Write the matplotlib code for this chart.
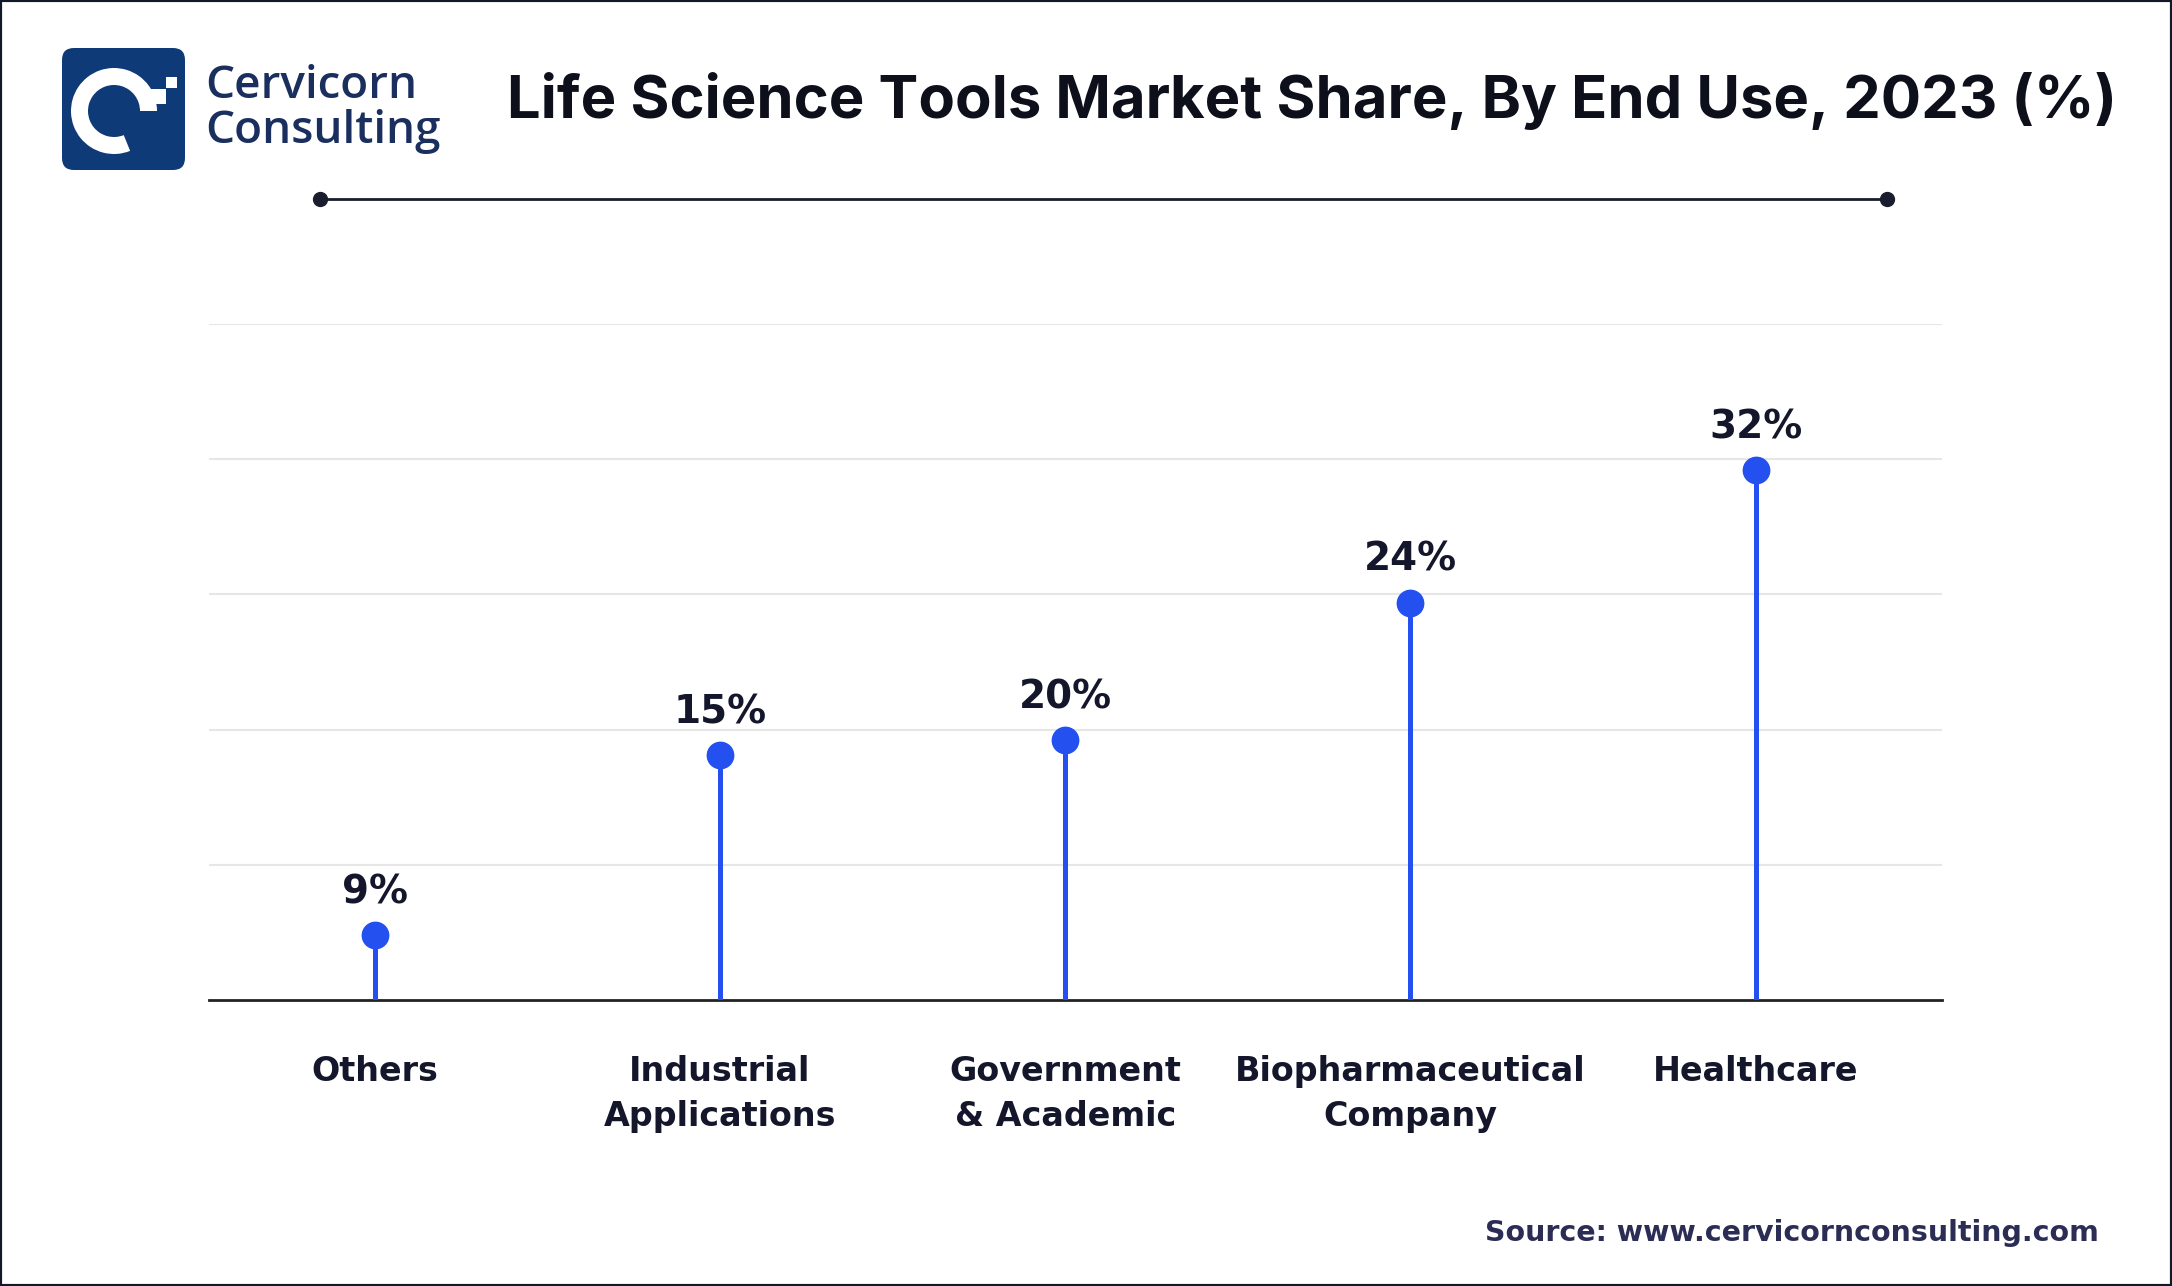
import matplotlib
matplotlib.use("Agg")
import matplotlib.pyplot as plt
import numpy as np
from matplotlib.patches import FancyBboxPatch, Wedge, Rectangle
from matplotlib.lines import Line2D

# data
categories = ["Others", "Industrial\nApplications", "Government\n& Academic",
              "Biopharmaceutical\nCompany", "Healthcare"]
share_labels = ["9%", "15%", "20%", "24%", "32%"]
# stem heights as drawn in the picture (same units as the labels)
stem_heights = [3.9, 14.8, 15.7, 24.0, 32.0]
grid_step = 8.17

W, H = 2172, 1286
BLUE = "#2450f0"
NAVY = "#1b2f5e"
INK = "#14172b"


def fx(x):
    return x / W


def fy(y):
    return 1 - y / H


fig = plt.figure(figsize=(W / 100, H / 100), dpi=100)
fig.patch.set_facecolor("white")

# outer frame
fig.add_artist(Rectangle((0, 0), 1, 1, transform=fig.transFigure, fill=False,
                         edgecolor="#111827", linewidth=3))

# logo
logo_ax = fig.add_axes([fx(62), fy(170), fx(123), 122 / H])
logo_ax.set_xlim(62, 185)
logo_ax.set_ylim(170, 48)
logo_ax.axis("off")
logo_ax.add_patch(FancyBboxPatch((62, 48), 123, 122,
                                 boxstyle="round,pad=0,rounding_size=12",
                                 facecolor="#0f3a78", edgecolor="none"))
logo_ax.add_patch(Wedge((114, 111), 43, 68, 360, width=17, facecolor="white",
                        edgecolor="none"))
logo_ax.add_patch(Rectangle((149, 89), 17, 15, facecolor="white", edgecolor="none"))
logo_ax.add_patch(Rectangle((166, 77), 11, 11, facecolor="white", edgecolor="none"))

fig.text(fx(205), fy(109), "Cervicorn\nConsulting", fontsize=33, color=NAVY,
         family="Open Sans", weight="semibold", va="center", ha="left",
         linespacing=0.98)

# title
fig.text(fx(1312), fy(101), "Life Science Tools Market Share, By End Use, 2023 (%)",
         fontsize=43, weight="bold", color="#0d0f1a", family="Inter",
         ha="center", va="center")

# decorative line under title
fig.add_artist(Line2D([fx(320), fx(1887)], [fy(199), fy(199)],
                      transform=fig.transFigure, color="#1a1d2e", linewidth=2,
                      marker="o", markersize=10, markevery=[0, 1]))

# main chart
ax = fig.add_axes([fx(209), fy(1000), fx(1942 - 209), (1000 - 324) / H])
x = np.arange(len(categories))
ax.vlines(x, 0, stem_heights, color=BLUE, linewidth=3.6, zorder=3)
ax.plot(x, stem_heights, "o", color=BLUE, markersize=19, zorder=4)

for xi, h, lab in zip(x, stem_heights, share_labels):
    ax.annotate(lab, (xi, h), xytext=(0, 31), textcoords="offset points",
                ha="center", va="center", fontsize=28, weight="bold",
                color=INK, family="DejaVu Sans")

ax.set_xlim(-0.48, 4.54)
ax.set_ylim(0, grid_step * 5)
ax.set_yticks(np.arange(1, 6) * grid_step)
ax.yaxis.grid(True, color="#e6e6e6", linewidth=1.5)
ax.set_axisbelow(True)
ax.tick_params(axis="y", left=False, labelleft=False)
ax.tick_params(axis="x", bottom=False, pad=36)
ax.set_xticks(x)
ax.set_xticklabels(categories, fontsize=24, color=INK, family="DejaVu Sans",
                   weight="semibold", linespacing=1.45, va="top")
for side in ("top", "left", "right"):
    ax.spines[side].set_visible(False)
ax.spines["bottom"].set_color("#222222")
ax.spines["bottom"].set_linewidth(2)

# source
fig.text(fx(2099), fy(1233), "Source: www.cervicornconsulting.com", fontsize=20.5,
         color="#2b2d55", family="DejaVu Sans",
         weight="bold", ha="right", va="center")

fig.savefig("out.png", dpi=100, facecolor="white")
